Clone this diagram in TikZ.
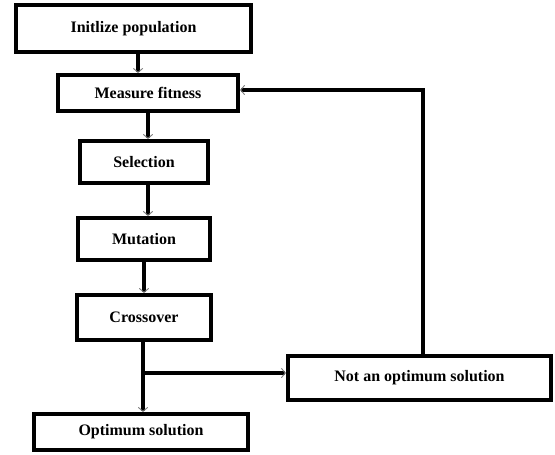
\documentclass[tikz,border=0pt]{standalone}
\usepackage{fontspec}
\setmainfont{Liberation Serif}
\usetikzlibrary{arrows.meta}
\tikzset{
	stage/.style={draw, line width=3pt, inner sep=0pt, font=\fontsize{12}{14}\selectfont\bfseries},
	flow/.style={line width=3pt, -{Straight Barb[length=3pt, width=7pt, line width=0.7pt, color=gray]}}
}
\begin{document}
\begin{tikzpicture}[x=0.75pt, y=-0.75pt]
		\useasboundingbox (0,0) rectangle (555,454);
		\node[stage, minimum width=176.25pt, minimum height=35.25pt] (init) at (133.5,28.5) {Initlize population};
		\node[stage, minimum width=135pt, minimum height=27pt] (fit) at (148,93) {Measure fitness};
		\node[stage, minimum width=96pt, minimum height=31.5pt] (sel) at (144,162) {Selection};
		\node[stage, minimum width=99pt, minimum height=31.5pt] (mut) at (144,239) {Mutation};
		\node[stage, minimum width=100.5pt, minimum height=33.75pt] (cross) at (144,317.5) {Crossover};
		\node[stage, minimum width=160.5pt, minimum height=27pt] (opt) at (141,432) {Optimum solution};
		\node[stage, minimum width=197.25pt, minimum height=33pt] (notopt) at (419.5,378) {Not an optimum solution};
		\coordinate (jn) at (143,373);
		\draw[flow] ([xshift=3.4pt]init.south) -- ([xshift=3.4pt]init.south |- fit.north);
		\draw[flow] (fit.south) -- (fit.south |- sel.north);
		\draw[flow] ([xshift=3pt]sel.south) -- ([xshift=3pt]sel.south |- mut.north);
		\draw[flow] (mut.south) -- (cross.north);
		\draw[flow] ([xshift=-0.75pt]cross.south) -- ([xshift=-0.75pt]cross.south |- opt.north);
		\draw[flow] (jn) -- (jn -| notopt.west);
		\draw[flow] ([xshift=2.6pt]notopt.north) |- ([yshift=2.25pt]fit.east);
	\end{tikzpicture}
\end{document}
